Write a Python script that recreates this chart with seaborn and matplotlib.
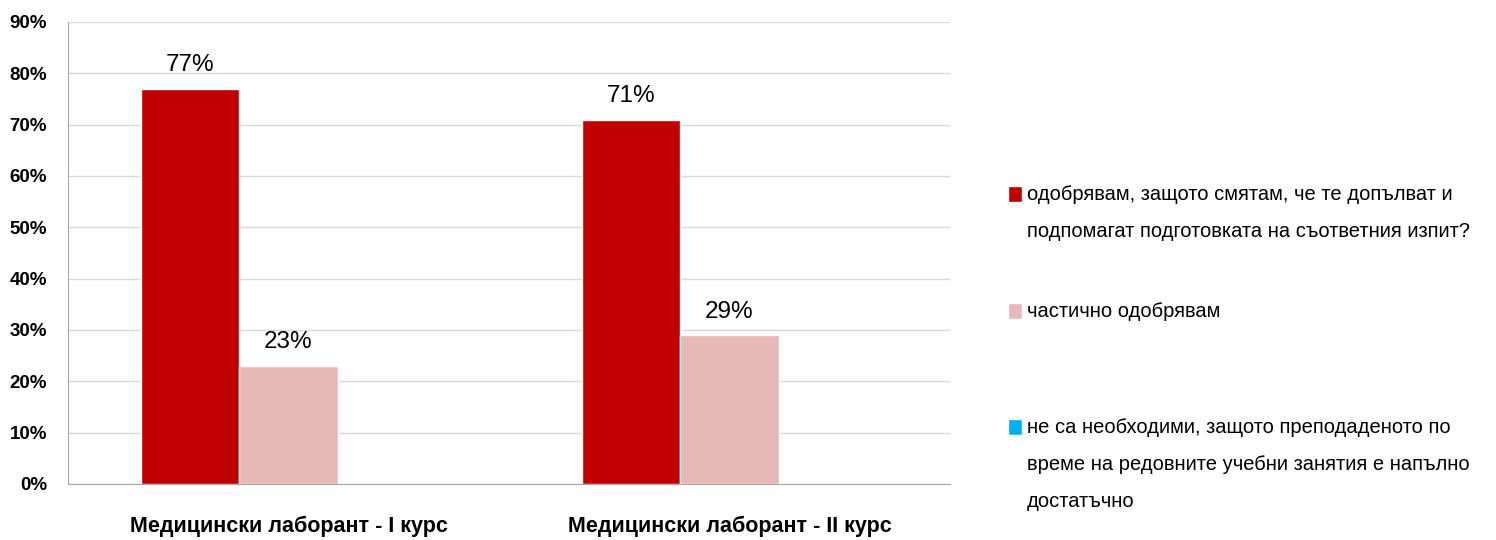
import matplotlib
matplotlib.use("Agg")
import matplotlib.pyplot as plt
import matplotlib.patches as mpatches
from matplotlib.ticker import PercentFormatter
import pandas as pd
import seaborn as sns

groups = ["Медицински лаборант - I курс", "Медицински лаборант - II курс"]
series = [
    "одобрявам, защото смятам, че те допълват и\nподпомагат подготовката на съответния изпит?",
    "частично одобрявам",
    "не са необходими, защото преподаденото по\nвреме на редовните учебни занятия е напълно\nдостатъчно",
]
approve = [0.77, 0.71]
partial = [0.23, 0.29]
not_needed = [0.0, 0.0]
colors = ["#c00000", "#e6b9b8", "#00b0f0"]

df = pd.DataFrame({
    "group": groups * 3,
    "series": [series[0]] * 2 + [series[1]] * 2 + [series[2]] * 2,
    "value": approve + partial + not_needed,
})

sns.set_style("white")
plt.rcParams["font.family"] = ["Liberation Sans Narrow", "Liberation Sans", "DejaVu Sans"]
plt.rcParams["text.color"] = "black"
plt.rcParams["xtick.color"] = "black"
plt.rcParams["ytick.color"] = "black"

fig = plt.figure(figsize=(14.96, 5.4), dpi=100)
ax = fig.add_axes([68 / 1496, 1 - 484 / 540, 882 / 1496, 462 / 540])

sns.barplot(data=df, x="group", y="value", hue="series", hue_order=series,
            palette=colors, width=0.667, saturation=1, legend=False, ax=ax)

ax.set_ylim(0, 0.9)
ax.set_xlim(-0.5, 1.5)
ax.set_yticks([i / 10 for i in range(10)])
ax.yaxis.set_major_formatter(PercentFormatter(1.0, decimals=0))
ax.grid(axis="y", color="#d9d9d9", linewidth=1)
ax.set_axisbelow(True)
for s in ["top", "right"]:
    ax.spines[s].set_visible(False)
ax.spines["left"].set_color("#a6a6a6")
ax.spines["bottom"].set_color("#a6a6a6")
ax.tick_params(axis="y", length=0, pad=15, labelsize=13.5)
ax.tick_params(axis="x", length=0, pad=23, labelsize=15.5)
for lbl in ax.get_yticklabels() + ax.get_xticklabels():
    lbl.set_fontweight("bold")
ax.set_xlabel("")
ax.set_ylabel("")

for cont in ax.containers:
    labels = [f"{v * 100:.0f}%" if v > 0 else "" for v in cont.datavalues]
    ax.bar_label(cont, labels=labels, padding=9, fontsize=17.5)

# legend drawn at the right, marker aligned with first line of each entry
legend_y = [195, 312, 428]
for name, col, y in zip(series, colors, legend_y):
    fig.patches.append(mpatches.Rectangle((1008 / 1496, 1 - 202 / 540 + (195 - y) / 540),
                                          14 / 1496, 16 / 540, facecolor=col,
                                          transform=fig.transFigure, figure=fig))
    fig.text(1027 / 1496, 1 - (y - 10) / 540, name, fontsize=14.5,
             va="top", ha="left", linespacing=2.2, color="black")

fig.savefig("out.png", dpi=100)
